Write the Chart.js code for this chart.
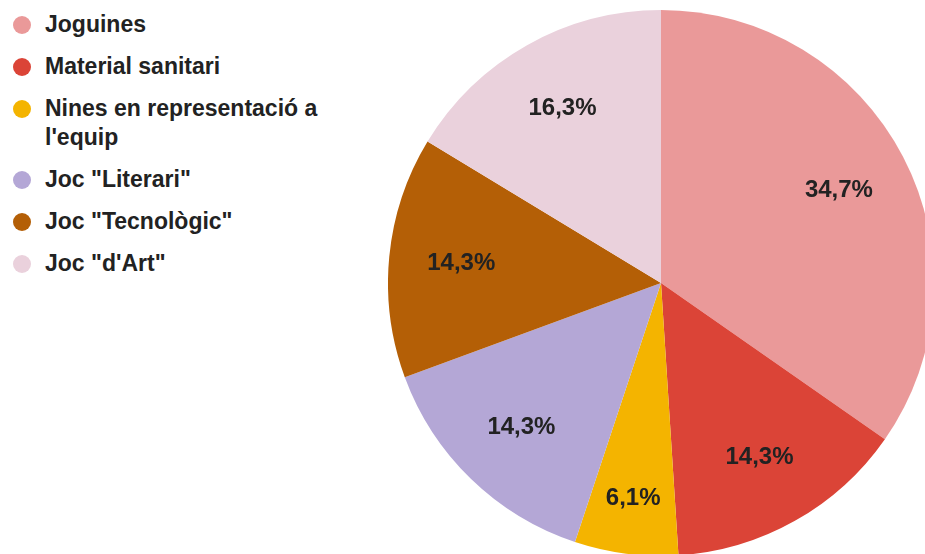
<!DOCTYPE html>
<html lang="ca">
<head>
  <meta charset="UTF-8" />
  <title>Joguines i jocs</title>
  <script src="https://cdn.jsdelivr.net/npm/chart.js"></script>
  <style>
    html, body {
      margin: 0;
      padding: 0;
      width: 925px;
      height: 554px;
      overflow: hidden;
      background: #fff;
      font-family: "Liberation Sans", Arial, sans-serif;
    }

    .legend {
      position: absolute;
      left: 12px;
      top: 10px;
      width: 310px;
      list-style: none;
      margin: 0;
      padding: 0;
    }

    .legend li {
      position: relative;
      padding-left: 33px;
      margin-bottom: 13px;
      font-size: 23px;
      line-height: 29px;
      font-weight: bold;
      color: #222;
    }

    .legend .dot {
      position: absolute;
      left: 1px;
      top: 6px;
      width: 18px;
      height: 18px;
      border-radius: 50%;
    }

    .pie-box {
      position: absolute;
      left: 388px;
      top: 10px;
      width: 546px;
      height: 546px;
    }
  </style>
</head>
<body>
  <ul class="legend" id="legend"></ul>

  <div class="pie-box">
    <canvas id="pieChart"></canvas>
  </div>

  <script>
    const labels = ['Joguines', 'Material sanitari', 'Nines en representació a l\'equip', 'Joc "Literari"', 'Joc "Tecnològic"', 'Joc "d\'Art"'];
    const counts = [17, 7, 3, 7, 7, 8];
    const colors = ['#ea9999', '#db4437', '#f4b400', '#b4a7d6', '#b45f06', '#ead1dc'];

    const total = counts.reduce((a, b) => a + b, 0);

    // html legend, so the long label can wrap like the original
    const legend = document.getElementById('legend');
    labels.forEach((name, i) => {
      const li = document.createElement('li');
      const dot = document.createElement('span');
      dot.className = 'dot';
      dot.style.background = colors[i];
      li.appendChild(dot);
      li.appendChild(document.createTextNode(name));
      legend.appendChild(li);
    });

    // percentage text inside each slice (narrow slices push it outward a bit)
    const sliceLabels = {
      id: 'sliceLabels',
      afterDatasetsDraw(chart) {
        const ctx = chart.ctx;
        const meta = chart.getDatasetMeta(0);
        ctx.save();
        ctx.font = 'bold 24px "Liberation Sans", Arial, sans-serif';
        ctx.fillStyle = '#222';
        ctx.textAlign = 'center';
        ctx.textBaseline = 'middle';
        meta.data.forEach((arc, i) => {
          const p = arc.getProps(['x', 'y', 'startAngle', 'endAngle', 'outerRadius'], true);
          const mid = (p.startAngle + p.endAngle) / 2;
          const frac = counts[i] / total;
          const r = p.outerRadius * (0.735 + Math.max(0, 0.1 - frac) * 1.6);
          const text = (frac * 100).toFixed(1).replace('.', ',') + '%';
          ctx.fillText(text, p.x + Math.cos(mid) * r, p.y + Math.sin(mid) * r);
        });
        ctx.restore();
      }
    };

    new Chart(document.getElementById('pieChart'), {
      type: 'pie',
      data: {
        labels: labels,
        datasets: [{
          data: counts,
          backgroundColor: colors,
          borderWidth: 0
        }]
      },
      options: {
        responsive: true,
        maintainAspectRatio: false,
        animation: false,
        layout: { padding: 0 },
        plugins: {
          legend: { display: false },
          tooltip: { enabled: false }
        }
      },
      plugins: [sliceLabels]
    });
  </script>
</body>
</html>
